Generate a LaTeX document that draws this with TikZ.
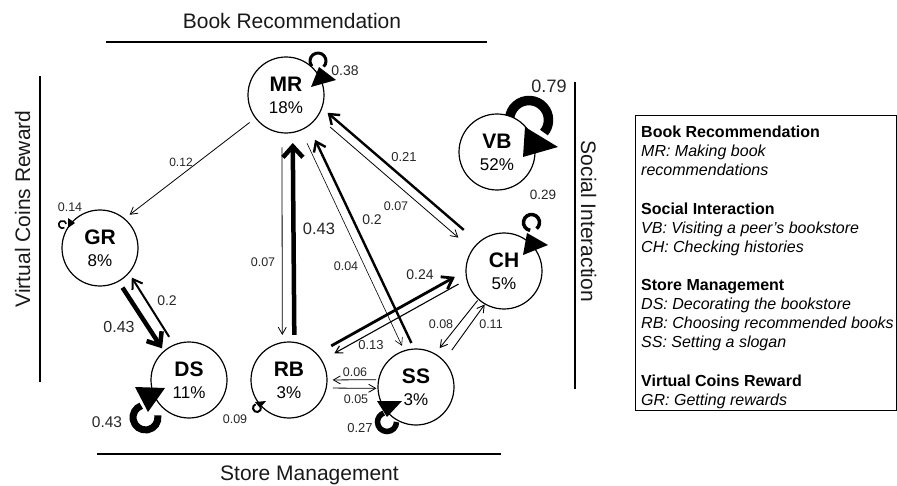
\documentclass[tikz,border=0pt]{standalone}
\usepackage{fontspec}
\setmainfont{Liberation Sans}
\usetikzlibrary{arrows.meta,calc}
\newcommand\myfs[1]{\fontsize{#1}{#1}\selectfont}
\begin{document}
\begin{tikzpicture}[x=1pt,y=-1pt,
  st/.style={circle,draw,line width=1.2pt,fill=white,minimum size=76pt,inner sep=0pt,align=center,font=\fontsize{17}{22}\selectfont},
  lab/.style={inner sep=0pt,font=\myfs{#1},text=black!85},
  grp/.style={inner sep=0pt,font=\myfs{21},text=black!90},
  leg/.style={inner sep=0pt,anchor=base west,font=\myfs{16}},
  e/.style n args={3}{line width=#1,-{Straight Barb[length=#2,width=#3]}},
  sep/.style={line width=1.3pt},
  head/.style={fill=black}]
\useasboundingbox (0,0) rectangle (897,486);

% group frames
\draw[sep] (106,42) -- (487,42);
\draw[sep] (40,76) -- (40,382);
\draw[sep] (97,454) -- (501,454);
\draw[sep] (575,82) -- (575,389);
\node[grp,anchor=base] (tBR) at (292,28.5) {Book Recommendation};
\node[grp,anchor=base] (tSM) at (309.5,480) {Store Management};
\node[grp,anchor=base,rotate=90] (tVC) at (30,209) {Virtual Coins Reward};
\node[grp,anchor=base,rotate=-90] (tSI) at (581,221.5) {Social Interaction};

% node centres
\coordinate (cMR) at (286,95);
\coordinate (cVB) at (497,152);
\coordinate (cCH) at (504,271);
\coordinate (cGR) at (100,248);
\coordinate (cDS) at (189,380);
\coordinate (cRB) at (289,380);
\coordinate (cSS) at (416,387);

% self-loop rings (under the nodes)
\draw[line width=3pt] ($(cMR)+(32,-34)$) ++(140:8) arc (140:405:8);
\draw[line width=9.5pt] ($(cVB)+(32,-32)$) ++(150:19.5) arc (150:400:19.5);
\draw[line width=3.5pt] ($(cCH)+(27.5,-48.5)$) ++(100:8) arc (100:410:8);
\draw[line width=1.6pt] ($(cGR)+(-37.5,-23.5)$) ++(60:3.8) arc (60:350:3.8);
\draw[line width=7pt] ($(cDS)+(-43.5,37.5)$) ++(-10:12.5) arc (-10:250:12.5);
\draw[line width=2pt] ($(cRB)+(-32,28)$) ++(-10:4) arc (-10:250:4);
\draw[line width=5.5pt] ($(cSS)+(-29,35)$) ++(0:9.5) arc (0:250:9.5);

% nodes
\node[st] (MR) at (cMR) {{\fontsize{21}{22}\selectfont\bfseries MR}\\18\%};
\node[st] (VB) at (cVB) {{\fontsize{21}{22}\selectfont\bfseries VB}\\52\%};
\node[st] (CH) at (cCH) {{\fontsize{21}{22}\selectfont\bfseries CH}\\5\%};
\node[st] (GR) at (cGR) {{\fontsize{21}{22}\selectfont\bfseries GR}\\8\%};
\node[st] (DS) at (cDS) {{\fontsize{21}{22}\selectfont\bfseries DS}\\11\%};
\node[st] (RB) at (cRB) {{\fontsize{21}{22}\selectfont\bfseries RB}\\3\%};
\node[st] (SS) at (cSS) {{\fontsize{21}{22}\selectfont\bfseries SS}\\3\%};

% self-loop arrowheads (over the nodes)
\path[head] ($(cMR)+(25,-8)$) -- ($(cMR)+(33,-28)$) -- ($(cMR)+(50,-15)$) -- cycle;
\path[head] ($(cVB)+(28,-25)$) -- ($(cVB)+(61,-5)$) -- ($(cVB)+(26,5)$) -- cycle;
\path[head] ($(cCH)+(23,-38)$) -- ($(cCH)+(44,-26)$) -- ($(cCH)+(19,-16)$) -- cycle;
\path[head] ($(cGR)+(-32,-30)$) -- ($(cGR)+(-25,-25)$) -- ($(cGR)+(-32,-20)$) -- cycle;
\path[head] ($(cDS)+(-54,7)$) -- ($(cDS)+(-24,8)$) -- ($(cDS)+(-41,32)$) -- cycle;
\path[head] ($(cRB)+(-34,22)$) -- ($(cRB)+(-23,21)$) -- ($(cRB)+(-29,28)$) -- cycle;
\path[head] ($(cSS)+(-39,14)$) -- ($(cSS)+(-14,14)$) -- ($(cSS)+(-29,30)$) -- cycle;

% edges
\draw[e={0.8pt}{7pt}{8pt},shorten <=7pt,shorten >=6pt] (MR.217) -- (GR.50.5);
\draw[e={0.8pt}{7pt}{8pt},shorten <=14pt,shorten >=7pt] (MR.264.5) -- (RB.100.3);
\draw[e={4.5pt}{11pt}{20pt},shorten <=7pt,shorten >=10pt] (RB.82.4) -- (MR.280.8);
\draw[e={0.6pt}{7pt}{8pt},shorten <=14pt,shorten >=5pt] (MR.293.6) -- (SS.108.9);
\draw[e={2.4pt}{9pt}{13pt},shorten <=6pt,shorten >=15pt] (SS.93.9) -- (MR.306.7);
\draw[e={0.8pt}{7pt}{8pt},shorten <=16pt,shorten >=18pt] (MR.326.3) -- (CH.146.6);
\draw[e={2.4pt}{9pt}{13pt},shorten <=19pt,shorten >=7pt] (CH.132.9) -- (MR.340.3);
\draw[e={2.8pt}{10pt}{14pt},shorten <=16pt,shorten >=12pt] (RB.43.5) -- (CH.180);
\draw[e={1.1pt}{7pt}{8pt},shorten <=9pt,shorten >=14pt] (CH.193.4) -- (RB.31);
\draw[e={0.9pt}{7pt}{8pt},shorten <=1pt,shorten >=7pt] (CH.228.1) -- (SS.60.6);
\draw[e={0.9pt}{7pt}{8pt},shorten <=13pt] (SS.43.4) -- (CH.240.5);
\draw[e={0.8pt}{7pt}{8pt},shorten <=2pt,shorten >=5pt] (SS.169.8) -- (RB.0);
\draw[e={0.8pt}{7pt}{8pt},shorten <=6pt,shorten >=1pt] (RB.348.2) -- (SS.182.9);
\draw[e={4.5pt}{11pt}{18pt},shorten <=7pt,shorten >=3pt] (GR.299.4) -- (DS.131);
\draw[e={2pt}{9pt}{12pt},shorten <=9pt,shorten >=5pt] (DS.113.8) -- (GR.319.7);

% edge labels
\node[lab=12] (w1) at (181,162) {0.12};
\node[lab=12.5] (w2) at (70,207) {0.14};
\node[lab=14] (w3) at (345,71) {0.38};
\node[lab=18] (w4) at (549,86) {0.79};
\node[lab=13.5] (w5) at (543,195) {0.29};
\node[lab=16] (w6) at (119,327) {0.43};
\node[lab=14] (w7) at (167,301) {0.2};
\node[lab=15.5] (w8) at (107,422) {0.43};
\node[lab=12.5] (w9) at (235,419) {0.09};
\node[lab=13] (w10) at (360,428) {0.27};
\node[lab=12.5] (w11) at (355,372) {0.06};
\node[lab=12.5] (w12) at (356,399) {0.05};
\node[lab=13] (w13) at (371,345) {0.13};
\node[lab=12.5] (w14) at (441,324) {0.08};
\node[lab=12.5] (w15) at (491,324) {0.11};
\node[lab=14] (w16) at (420,275) {0.24};
\node[lab=12.5] (w17) at (346,266) {0.04};
\node[lab=12.5] (w18) at (263,262) {0.07};
\node[lab=16.5] (w19) at (319,229) {0.43};
\node[lab=14] (w20) at (372,220) {0.2};
\node[lab=12.5] (w21) at (396,206) {0.07};
\node[lab=13] (w22) at (404,157) {0.21};

% legend
\draw[line width=0.8pt] (635,115) rectangle (896,410);
\node[leg] (l1) at (641,137.7) {\bfseries Book Recommendation};
\node[leg] (l2) at (641,156.8) {\itshape MR: Making book};
\node[leg] (l3) at (641,175.9) {\itshape recommendations};
\node[leg] (l4) at (641,214.1) {\bfseries Social Interaction};
\node[leg] (l5) at (641,233.2) {\itshape VB: Visiting a peer’s bookstore};
\node[leg] (l6) at (641,252.3) {\itshape CH: Checking histories};
\node[leg] (l7) at (641,290.5) {\bfseries Store Management};
\node[leg] (l8) at (641,309.6) {\itshape DS: Decorating the bookstore};
\node[leg] (l9) at (641,328.7) {\itshape RB: Choosing recommended books};
\node[leg] (l10) at (641,347.8) {\itshape SS: Setting a slogan};
\node[leg] (l11) at (641,386) {\bfseries Virtual Coins Reward};
\node[leg] (l12) at (641,405.1) {\itshape GR: Getting rewards};
\end{tikzpicture}
\end{document}
